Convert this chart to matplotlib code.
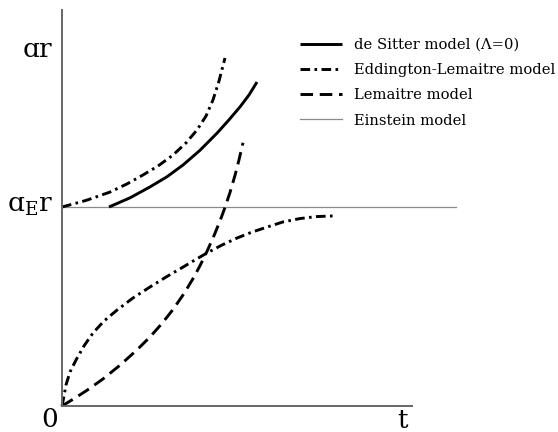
import matplotlib
matplotlib.use("Agg")
import matplotlib.pyplot as plt

plt.rcParams['font.family'] = ['DejaVu Serif']

# --- data (t in arbitrary units, a r in units of a_E r) ---
desitter_t = [0.47, 0.68, 0.88, 1.05, 1.21, 1.38, 1.55, 1.67, 1.78, 1.87, 1.95]
desitter_y = [1.00, 1.046, 1.101, 1.152, 1.211, 1.285, 1.371, 1.438, 1.503, 1.563, 1.628]

el_up_t = [0.00, 0.24, 0.48, 0.65, 0.81, 0.96, 1.11, 1.24, 1.35, 1.44, 1.51, 1.57, 1.63]
el_up_y = [1.00, 1.033, 1.075, 1.116, 1.161, 1.206, 1.261, 1.322, 1.387, 1.457, 1.538, 1.633, 1.749]

el_low_t = [0.00, 0.02, 0.04, 0.08, 0.14, 0.22, 0.31, 0.42, 0.55, 0.71, 0.88, 1.04,
            1.21, 1.33, 1.45, 1.60, 1.75, 1.90, 2.05, 2.21, 2.38, 2.55, 2.71]
el_low_y = [0.00, 0.050, 0.106, 0.171, 0.231, 0.302, 0.367, 0.427, 0.482, 0.543, 0.598, 0.648,
            0.698, 0.734, 0.769, 0.809, 0.844, 0.874, 0.899, 0.925, 0.942, 0.952, 0.955]

lem_t = [0.00, 0.13, 0.25, 0.41, 0.58, 0.75, 0.88, 1.00, 1.11, 1.22, 1.31, 1.38,
         1.45, 1.52, 1.58, 1.63, 1.68, 1.73, 1.77, 1.81]
lem_y = [0.00, 0.040, 0.079, 0.136, 0.205, 0.282, 0.347, 0.415, 0.485, 0.565, 0.640, 0.705,
         0.777, 0.856, 0.930, 0.998, 1.073, 1.159, 1.237, 1.323]

einstein_t = [0.0, 3.94]
einstein_y = [1.0, 1.0]

labels = ["de Sitter model (Λ=0)", "Eddington-Lemaitre model", "Lemaitre model", "Einstein model"]

fig = plt.figure(figsize=(5.58, 4.32), dpi=100)
ax = fig.add_axes([0, 0, 1, 1])
ax.set_xlim(-0.62, 4.96)
ax.set_ylim(-26 / 199, 406 / 199)

lw = 2.1
dashdot = (0, (3.3, 1.5, 0.9, 1.5))
dashed = (0, (4.3, 2.3))

h4, = ax.plot(einstein_t, einstein_y, color='#8a8a8a', lw=0.9, zorder=1)
h1, = ax.plot(desitter_t, desitter_y, color='black', lw=lw, solid_capstyle='butt')
h2, = ax.plot(el_up_t, el_up_y, color='black', lw=lw, linestyle=dashdot)
ax.plot(el_low_t, el_low_y, color='black', lw=lw, linestyle=dashdot)
h3, = ax.plot(lem_t, lem_y, color='black', lw=lw, linestyle=dashed)

for s in ['top', 'right']:
    ax.spines[s].set_visible(False)
ax.spines['left'].set_position(('data', 0))
ax.spines['bottom'].set_position(('data', 0))
ax.spines['left'].set_bounds(0, 1.99)
ax.spines['bottom'].set_bounds(0, 3.5)
for s in ['left', 'bottom']:
    ax.spines[s].set_color('#666666')
    ax.spines[s].set_linewidth(1.4)
ax.set_xticks([])
ax.set_yticks([])
ax.patch.set_visible(False)

ax.text(-0.25, 1.789, "ɑr", fontsize=19, ha='center', va='center')
ax.text(-0.32, 1.01, "ɑ$_{\\mathregular{E}}$r", fontsize=19, ha='center', va='center')
ax.text(-0.12, -0.07, "0", fontsize=19, ha='center', va='center')
ax.text(3.41, -0.075, "t", fontsize=19, ha='center', va='center')

leg = fig.legend([h1, h2, h3, h4], labels, loc='upper left',
                 bbox_to_anchor=(300 / 558, 1 - 38 / 432), frameon=False,
                 fontsize=10.6, handlelength=2.86, handletextpad=0.8,
                 labelspacing=0.76, borderaxespad=0, borderpad=0)

fig.savefig("out.png", dpi=100)
